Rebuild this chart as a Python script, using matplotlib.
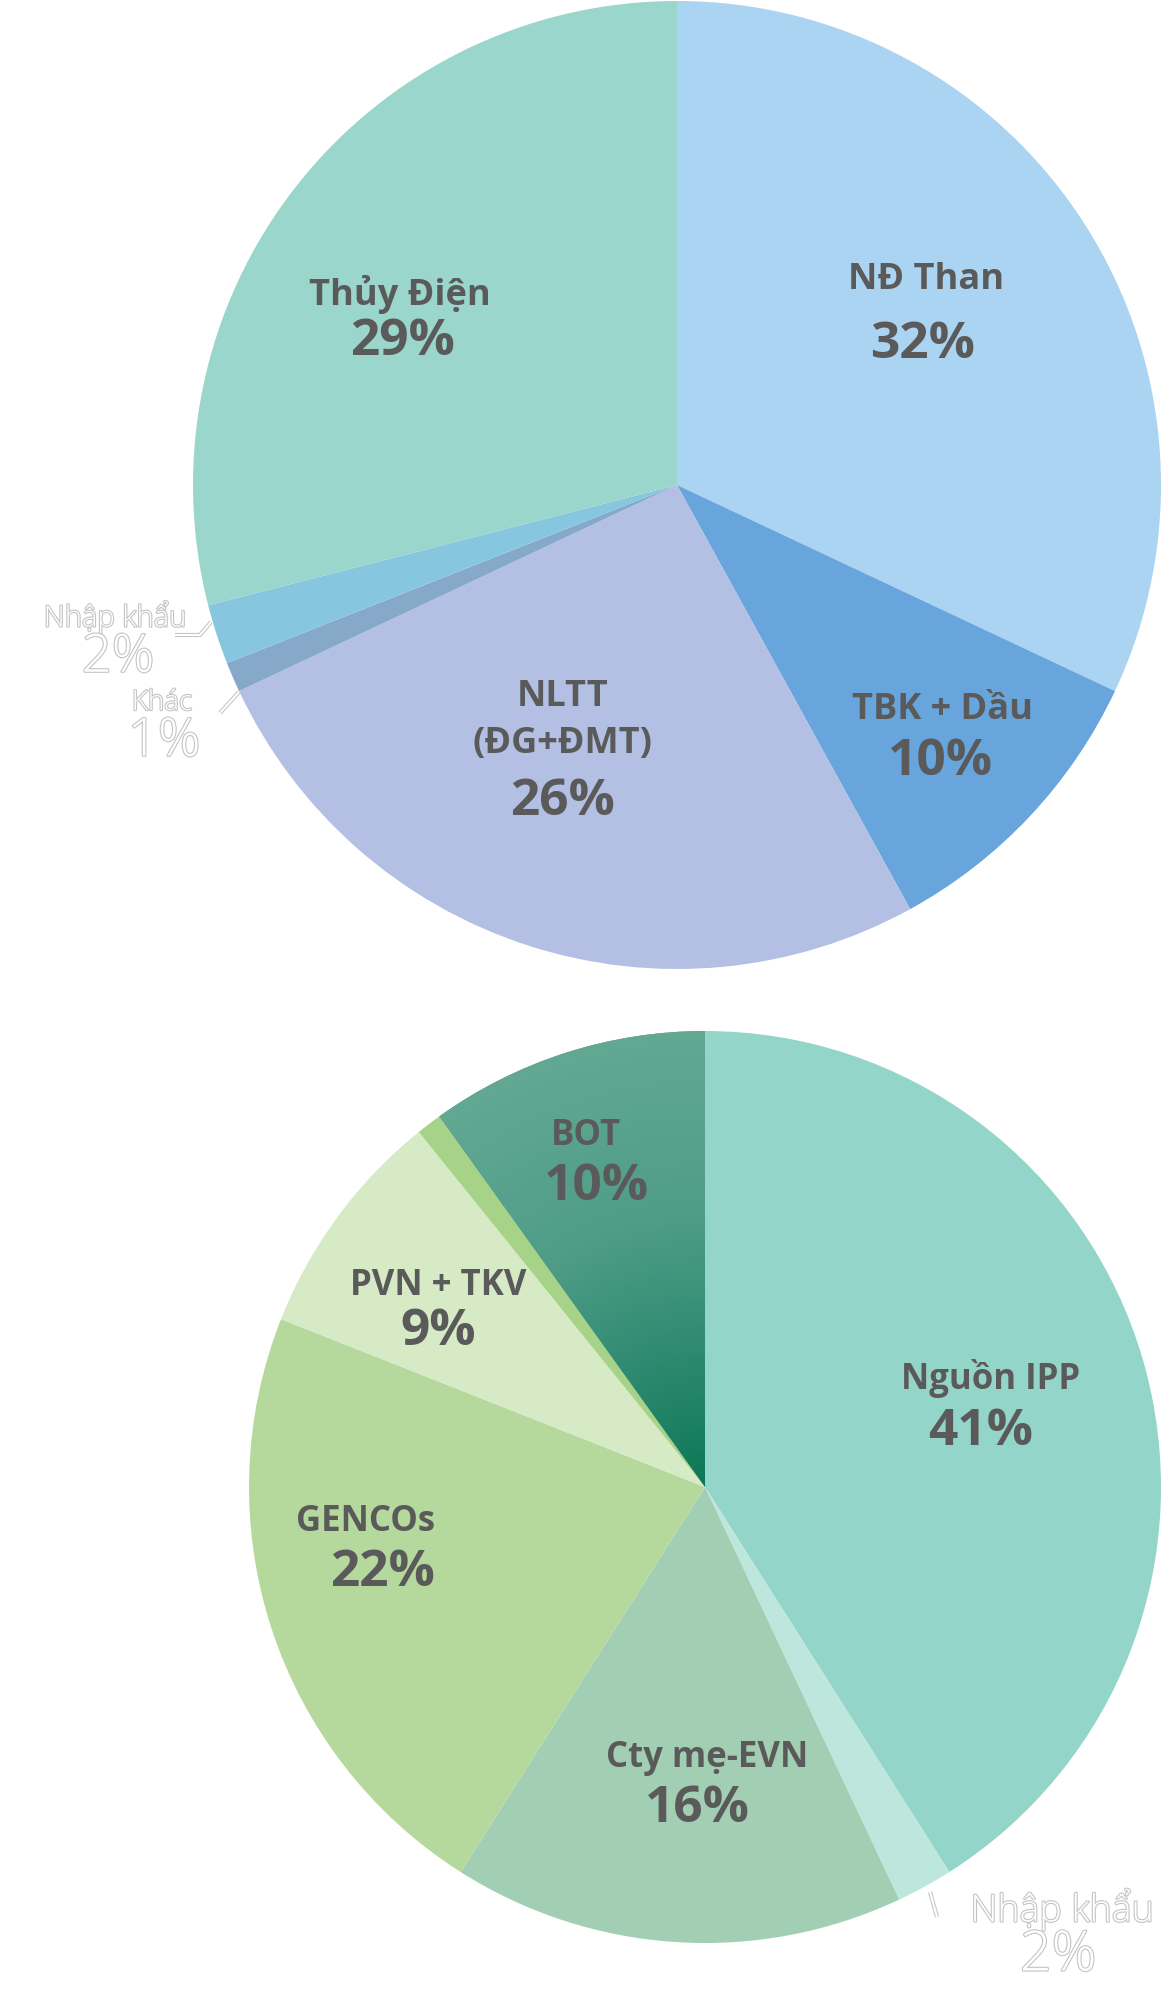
import matplotlib
matplotlib.use("Agg")
import matplotlib.pyplot as plt
import matplotlib.patheffects as pe
import numpy as np
from matplotlib.colors import LinearSegmentedColormap

# ---------------- data ----------------
top_labels = ["NĐ Than", "TBK + Dầu", "NLTT\n(ĐG+ĐMT)", "Khác", "Nhập khẩu", "Thủy Điện"]
top_values = [32, 10, 26, 1, 2, 29]
top_pct = ["32%", "10%", "26%", "1%", "2%", "29%"]
top_colors = ["#aad4f1", "#67a5dc", "#b3c0e4", "#86a9c9", "#86c6df", "#9ad6cb"]

bot_labels = ["Nguồn IPP", "Nhập khẩu", "Cty mẹ-EVN", "GENCOs", "PVN + TKV", "", "BOT"]
bot_values = [41, 2, 16, 22, 8.2, 0.9, 9.9]
bot_pct = ["41%", "2%", "16%", "22%", "9%", "", "10%"]
bot_colors = ["#93d5c8", "#bde6dc", "#a2cfb4", "#b5d99c", "#d6eac6", "#a6d388", "#54a08a"]

W, H = 1167, 2001
fig = plt.figure(figsize=(W / 100, H / 100), dpi=100)
fig.patch.set_facecolor("white")
ax = fig.add_axes([0, 0, 1, 1])

top_c = (677, H - 485)
top_r = 484
bot_c = (705, H - 1487)
bot_r = 456

tw, _ = ax.pie(top_values, colors=top_colors, startangle=90, counterclock=False,
               center=top_c, radius=top_r, wedgeprops=dict(linewidth=0))
bw, _ = ax.pie(bot_values, colors=bot_colors, startangle=90, counterclock=False,
               center=bot_c, radius=bot_r, wedgeprops=dict(linewidth=0))

# radial gradient on BOT slice
cmap = LinearSegmentedColormap.from_list(
    "bot", [(0.0, "#0c7755"), (0.3, "#2e8a70"), (0.6, "#4f9d87"), (1.0, "#62a893")])
xs = np.linspace(bot_c[0] - bot_r, bot_c[0] + bot_r, 400)
ys = np.linspace(bot_c[1] - bot_r, bot_c[1] + bot_r, 400)
X, Y = np.meshgrid(xs, ys)
R = np.sqrt((X - bot_c[0]) ** 2 + (Y - bot_c[1]) ** 2) / bot_r
im = ax.imshow(R, cmap=cmap, vmin=0, vmax=1, origin="lower",
               extent=(xs[0], xs[-1], ys[0], ys[-1]), zorder=3, interpolation="bilinear")
im.set_clip_path(bw[6])

ax.set_xlim(0, W)
ax.set_ylim(0, H)
ax.set_aspect("equal")
ax.axis("off")

fam = ["Open Sans", "DejaVu Sans"]
dark = "#5a5a5a"

def lab(x, y, s, size, **kw):
    ax.text(x, H - y, s, fontsize=size, color=dark, fontweight="bold", family=fam,
            ha="center", va="center", zorder=5, **kw)

# top pie labels
lab(926, 280, top_labels[0], 26)
lab(923, 345, top_pct[0], 37)
lab(942, 710, top_labels[1], 26)
lab(940, 762, top_pct[1], 37)
lab(563, 697, "NLTT", 26)
lab(563, 744, "(ĐG+ĐMT)", 26)
lab(563, 802, top_pct[2], 37)
lab(400, 294, top_labels[5], 26)
lab(403, 342, top_pct[5], 37)

# bottom pie labels
lab(586, 1136, bot_labels[6], 25)
lab(596, 1187, bot_pct[6], 37)
lab(438, 1286, bot_labels[4], 25)
lab(438, 1332, bot_pct[4], 37)
lab(991, 1379, bot_labels[0], 25)
lab(981, 1432, bot_pct[0], 37)
lab(366, 1522, bot_labels[3], 25)
lab(383, 1573, bot_pct[3], 37)
lab(707, 1758, bot_labels[2], 25)
lab(697, 1809, bot_pct[2], 37)

# white outlined labels
outline = [pe.Stroke(linewidth=1.6, foreground="#c4c4c4"), pe.Normal()]

def wlab(x, y, s, size):
    ax.text(x, H - y, s, fontsize=size, color="white", fontweight="light", family=fam,
            ha="center", va="center", zorder=5, path_effects=outline)

wlab(115, 617, top_labels[4], 21)
wlab(118, 658, top_pct[4], 38)
wlab(162, 703, top_labels[3], 20)
wlab(164, 742, top_pct[3], 38)
wlab(1062, 1909, bot_labels[1], 27)
wlab(1058, 1956, bot_pct[1], 40)

lp = [pe.Stroke(linewidth=3, foreground="#c4c4c4"), pe.Normal()]
def lline(pts):
    xs_ = [p[0] for p in pts]
    ys_ = [H - p[1] for p in pts]
    ax.plot(xs_, ys_, color="white", lw=1.5, zorder=5, path_effects=lp, solid_capstyle="butt")

lline([(175, 635), (200, 635), (211, 622)])
lline([(220, 713), (239, 692)])
lline([(930, 1892), (937, 1917)])

fig.savefig("out.png", dpi=100, facecolor="white")
